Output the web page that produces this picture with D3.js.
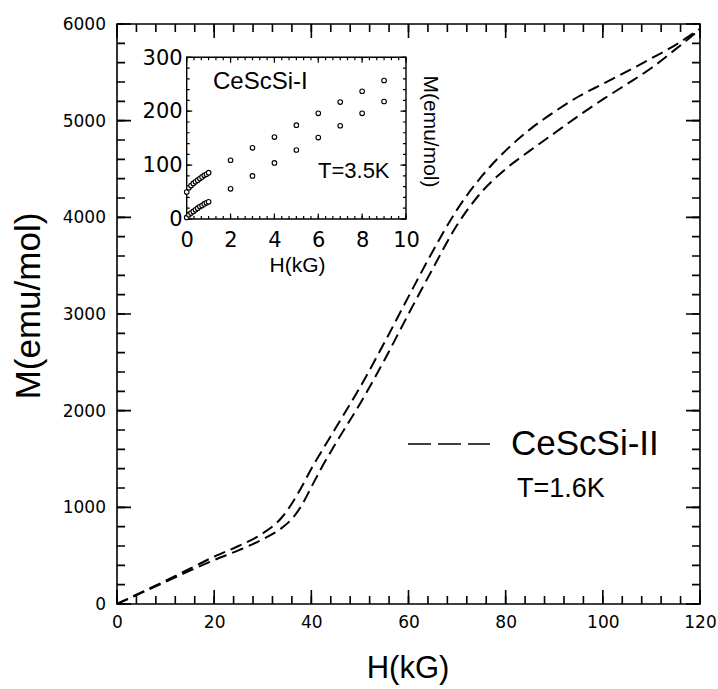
<!DOCTYPE html>
<html>
<head>
<meta charset="utf-8">
<script src="https://cdn.jsdelivr.net/npm/d3@7"></script>
<style>
  html, body { margin: 0; padding: 0; background: #fff; }
  svg { display: block; }
</style>
</head>
<body>
<svg id="chart" width="718" height="689"></svg>
<script>
// ---------- Main chart data (CeScSi-II, T=1.6K) ----------
const mainField = [0,5,10,15,20,25,30,34,36,38,40,42,45,50,55,60,65,70,75,80,85,90,95,100,105,110,115,120];
const mainUpper = [0,120,240,365,490,600,730,900,1040,1210,1400,1570,1820,2240,2700,3180,3650,4080,4420,4690,4910,5090,5250,5380,5510,5645,5785,5950];
const mainLower = [0,115,230,345,455,555,670,790,880,1020,1210,1400,1660,2070,2520,3000,3470,3920,4260,4500,4690,4870,5050,5220,5380,5545,5740,5945];
const mainXTicks = [0,20,40,60,80,100,120];
const mainYTicks = [0,1000,2000,3000,4000,5000,6000];

// ---------- Inset data (CeScSi-I, T=3.5K) ----------
const insetField = [0,0.1,0.2,0.3,0.4,0.5,0.6,0.7,0.8,0.9,1.0,2,3,4,5,6,7,8,9];
const insetUpper = [50,58,62,66,69,72,75,78,81,83,86,109,132,152,174,196,217,237,257];
const insetLower = [3,8,11,14,17,20,23,25,28,30,32,56,80,104,128,151,173,196,218];
const insetXTicks = [0,2,4,6,8,10];
const insetYTicks = [0,100,200,300];

const labels = {
  mainX: "H(kG)", mainY: "M(emu/mol)",
  legend: "CeScSi-II", mainT: "T=1.6K",
  insetName: "CeScSi-I", insetT: "T=3.5K",
  insetX: "H(kG)", insetY: "M(emu/mol)"
};

const svg = d3.select("#chart");
const textFont = "'Liberation Sans', Arial, Helvetica, sans-serif";
const numFont = "'DejaVu Sans', sans-serif";

function frame(L, R, T, B, sw) {
  svg.append("path")
    .attr("d", `M${L},${T}H${R}V${B}H${L}Z`)
    .attr("fill", "none").attr("stroke", "#000").attr("stroke-width", sw);
}
// tick marks pointing inward on all four sides, built as one path per set
function tickPath(xs, ys, sx, sy, L, R, T, B, len) {
  let d = "";
  xs.forEach(v => { const p = sx(v); d += `M${p},${B}V${B - len}M${p},${T}V${T + len}`; });
  ys.forEach(v => { const p = sy(v); d += `M${L},${p}H${L + len}M${R},${p}H${R - len}`; });
  return d;
}
function labelAxis(g, fontSize) {
  g.select(".domain").remove();
  g.selectAll(".tick line").remove();
  g.selectAll("text").attr("font-family", numFont).attr("font-size", fontSize).attr("fill", "#000");
}

// ---------- Main plot ----------
const L = 117, R = 700, T = 24, B = 604;
const x = d3.scaleLinear().domain([0,120]).range([L,R]);
const y = d3.scaleLinear().domain([0,6000]).range([B,T]);
const xMinor = d3.range(0,121,4), yMinor = d3.range(0,6001,200);

frame(L, R, T, B, 1.6);
svg.append("path").attr("d", tickPath(xMinor, yMinor, x, y, L, R, T, B, 8))
  .attr("fill","none").attr("stroke","#000").attr("stroke-width",1.6);
svg.append("path").attr("d", tickPath(mainXTicks, mainYTicks, x, y, L, R, T, B, 14))
  .attr("fill","none").attr("stroke","#000").attr("stroke-width",1.6);

svg.append("g").attr("transform",`translate(0,${B})`)
  .call(d3.axisBottom(x).tickValues(mainXTicks).tickSize(0).tickPadding(12).tickFormat(d3.format("d")))
  .call(labelAxis, 17);
svg.append("g").attr("transform",`translate(${L},0)`)
  .call(d3.axisLeft(y).tickValues(mainYTicks).tickSize(0).tickPadding(11).tickFormat(d3.format("d")))
  .call(labelAxis, 17);

const line = d3.line().x(d=>x(d[0])).y(d=>y(d[1])).curve(d3.curveMonotoneX);
[mainUpper, mainLower].forEach(series => {
  svg.append("path")
    .attr("d", line(mainField.map((h,i)=>[h, series[i]])))
    .attr("fill","none").attr("stroke","#000").attr("stroke-width",2)
    .attr("stroke-dasharray","12,6");
});

// axis titles
svg.append("text").attr("x",408).attr("y",678).attr("text-anchor","middle")
  .attr("font-family",textFont).attr("font-size",31).text(labels.mainX);
svg.append("text").attr("transform","translate(40,306) rotate(-90)").attr("text-anchor","middle")
  .attr("font-family",textFont).attr("font-size",35).text(labels.mainY);

// legend
svg.append("line").attr("x1",408).attr("x2",490).attr("y1",444).attr("y2",444)
  .attr("stroke","#000").attr("stroke-width",1.6).attr("stroke-dasharray","23,7");
svg.append("text").attr("x",511).attr("y",455).attr("font-family",textFont)
  .attr("font-size",35).text(labels.legend);
svg.append("text").attr("x",517).attr("y",497).attr("font-family",textFont)
  .attr("font-size",27).text(labels.mainT);

// ---------- Inset ----------
const iL = 186.7, iR = 406, iT = 57.3, iB = 219;
const ix = d3.scaleLinear().domain([0,10]).range([iL,iR]);
const iy = d3.scaleLinear().domain([0,300]).range([iB,iT]);
const ixMinor = d3.range(0,10.01,1/3), iyMinor = d3.range(0,301,20);

frame(iL, iR, iT, iB, 1.4);
svg.append("path").attr("d", tickPath(ixMinor, iyMinor, ix, iy, iL, iR, iT, iB, 3))
  .attr("fill","none").attr("stroke","#000").attr("stroke-width",1.2);
svg.append("path").attr("d", tickPath(insetXTicks, insetYTicks, ix, iy, iL, iR, iT, iB, 5.5))
  .attr("fill","none").attr("stroke","#000").attr("stroke-width",1.2);

svg.append("g").attr("transform",`translate(0,${iB})`)
  .call(d3.axisBottom(ix).tickValues(insetXTicks).tickSize(0).tickPadding(13).tickFormat(d3.format("d")))
  .call(labelAxis, 21);
svg.append("g").attr("transform",`translate(${iL},0)`)
  .call(d3.axisLeft(iy).tickValues(insetYTicks).tickSize(0).tickPadding(4).tickFormat(d3.format("d")))
  .call(labelAxis, 21);

[insetUpper, insetLower].forEach(series => {
  svg.append("g").selectAll("circle")
    .data(insetField.map((h,i)=>[h, series[i]]))
    .join("circle")
    .attr("cx", d=>ix(d[0])).attr("cy", d=>iy(d[1])).attr("r", 2.3)
    .attr("fill","#fff").attr("stroke","#000").attr("stroke-width",1.1);
});

svg.append("text").attr("x",213).attr("y",89).attr("font-family",textFont)
  .attr("font-size",24).text(labels.insetName);
svg.append("text").attr("x",318).attr("y",178).attr("font-family",textFont)
  .attr("font-size",22).text(labels.insetT);
svg.append("text").attr("x",297.5).attr("y",272).attr("text-anchor","middle")
  .attr("font-family",textFont).attr("font-size",21).text(labels.insetX);
svg.append("text").attr("transform","translate(424,131.5) rotate(90)").attr("text-anchor","middle")
  .attr("font-family",textFont).attr("font-size",21).text(labels.insetY);
</script>
</body>
</html>
